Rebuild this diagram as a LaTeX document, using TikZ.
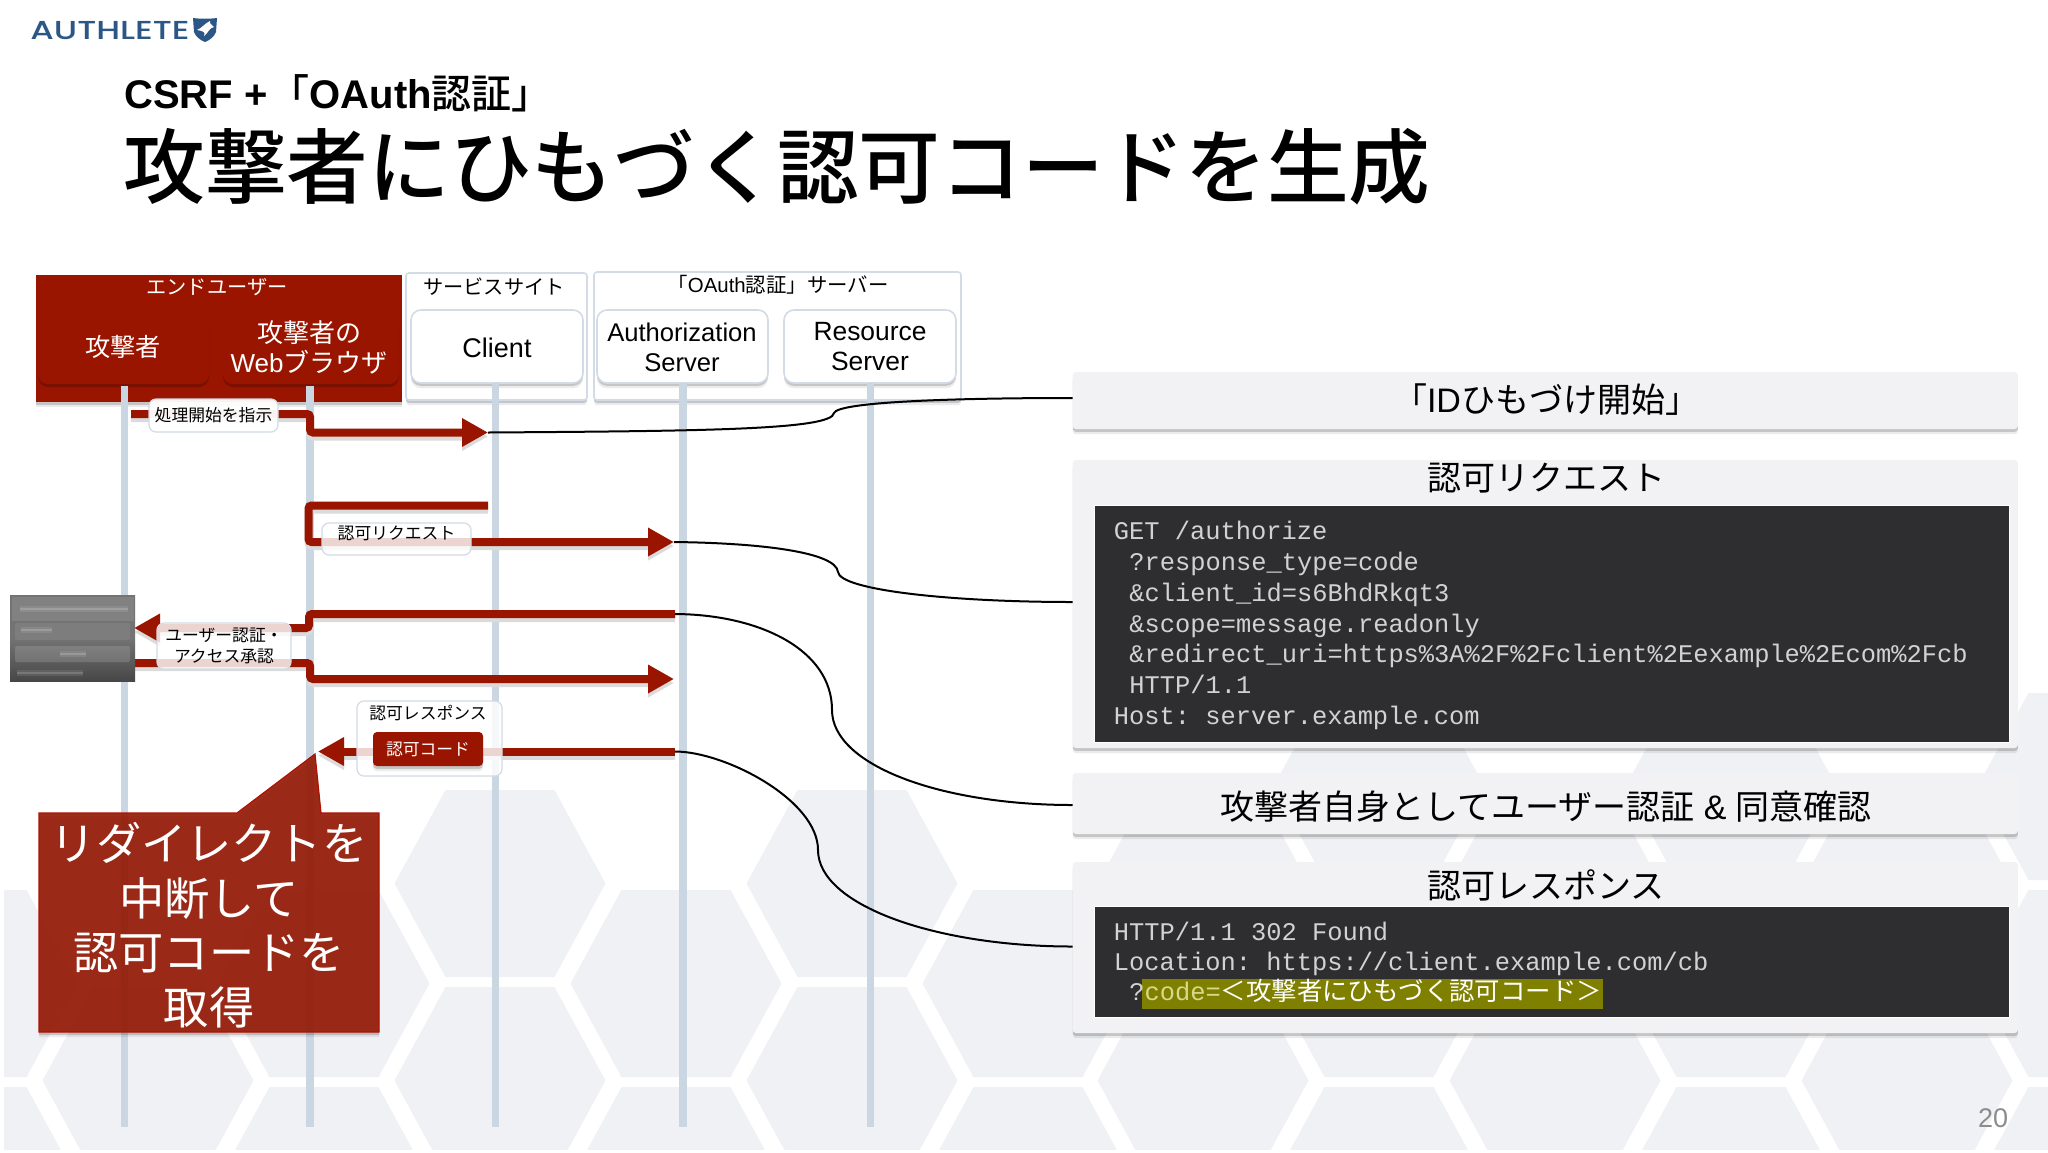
\documentclass[tikz,border=0pt]{standalone}
\usepackage{graphicx}
\usepackage{fontspec}
\setmainfont{Liberation Sans}
\setmonofont{Liberation Mono}
\newfontfamily\cjk{Noto Sans CJK JP}
\newfontfamily\cjkmed{Noto Sans CJK JP Medium}
\newfontfamily\logofont{Poppins Medium}
\usetikzlibrary{arrows.meta,shadows,shapes.geometric}
\definecolor{authred}{HTML}{991500}
\definecolor{lifeblue}{HTML}{CBD6E3}
\definecolor{edgeblue}{HTML}{D3DBE6}
\definecolor{hexgray}{HTML}{F0F1F4}
\definecolor{panelgray}{HTML}{F2F2F4}
\definecolor{codedark}{HTML}{2E2D30}
\definecolor{codetext}{HTML}{D2D2D2}
\definecolor{logoblue}{HTML}{2B5685}
\newcommand{\hexcell}[2]{\fill[hexgray] ({#1-105.5},#2) -- ({#1-54.5},{#2-93.5}) -- ({#1+54.5},{#2-93.5}) -- ({#1+105.5},#2) -- ({#1+54.5},{#2+93.5}) -- ({#1-54.5},{#2+93.5}) -- cycle;}
\tikzset{
  softshadow/.style={drop shadow={shadow xshift=0pt,shadow yshift=-2.6pt,opacity=.08,fill=black},drop shadow={shadow xshift=0pt,shadow yshift=-1.4pt,opacity=.16,fill=black}},
  grouphead/.style={draw=edgeblue,line width=.8pt,fill=white,rounded corners=1.5pt,inner sep=0pt,softshadow},
  actorwhite/.style={draw=edgeblue,line width=.8pt,fill=white,rounded corners=5pt,inner sep=0pt,softshadow},
  actorred/.style={fill=authred,rounded corners=5pt,inner sep=0pt,drop shadow={shadow xshift=0pt,shadow yshift=-1.5pt,opacity=.2,fill=black}},
  headtxt/.style={inner sep=0pt,font=\cjk\fontsize{10.1}{12}\selectfont},
  actortxt/.style={inner sep=0pt,align=center,font=\fontsize{12.8}{15}\selectfont},
  lifeline/.style={line width=3.6pt,lifeblue},
  flow/.style={line width=4pt,authred,rounded corners=1.5pt,preaction={draw=black!14,line width=4pt,transform canvas={yshift=-2pt}}},
  flowhead/.style={-{Triangle[length=13pt,width=13.5pt]}},
  msglabel/.style={draw=edgeblue,line width=.6pt,fill=white,fill opacity=.82,text opacity=1,rounded corners=3.5pt,inner sep=0pt,align=center,font=\cjk\fontsize{8.4}{10}\selectfont},
  panel/.style={fill=panelgray,rounded corners=1.5pt,inner sep=0pt,softshadow},
  paneltitle/.style={inner sep=0pt,font=\cjk\fontsize{17}{20}\selectfont},
  codebox/.style={fill=codedark,draw=white,line width=.5pt,inner sep=0pt},
  codeline/.style={anchor=west,inner sep=0pt,text height=10pt,text depth=3pt,text=codetext,font=\ttfamily\fontsize{12.7}{15}\selectfont},
  link/.style={line width=1pt,black},
  blurwide/.style={line width=3pt,white,opacity=.09},
  blurcore/.style={line width=1.2pt,white,opacity=.16},
}
\begin{document}
\begin{tikzpicture}[x=.5pt,y=-.5pt]
\useasboundingbox (0,0) rectangle (2048,1152);
\fill[white] (0,0) rectangle (2048,1152);
% background honeycomb
\begin{scope}
\clip (4,600) rectangle (2048,1149);
\foreach \cx in {500,852,1203,1555,1907} {\hexcell{\cx}{883.5}}
\foreach \cx in {148,500,852,1203,1555,1907} {\hexcell{\cx}{1080.5}}
\foreach \cx in {148,500,852,1203,1555,1907} {\hexcell{\cx}{1277.5}}
\foreach \cx in {-28,324,676,1028,1379,1731,2083} {\hexcell{\cx}{983.5}}
\foreach \cx in {-28,324,676,1028,1379,1731,2083} {\hexcell{\cx}{1180.5}}
\foreach \cx in {1379,1731,2083} {\hexcell{\cx}{786.5}}
\end{scope}
% logo
\node[anchor=west,inner sep=0pt,text=logoblue,font=\logofont\fontsize{13}{14}\selectfont] (logo) at (30,31) {\scalebox{1.3}[1]{AUTHLETE}};
\fill[logoblue] (193,18) .. controls (201,19) and (209,19) .. (217,18) -- (216,32) .. controls (214,37) and (210,40) .. (205,42) .. controls (200,40) and (196,37) .. (194,32) -- cycle;
\fill[white] (197,30) .. controls (202,28) and (204,24) .. (210,21) .. controls (209,25) and (213,24) .. (214,27) .. controls (209,28) and (209,32) .. (204,36) .. controls (206,32) and (203,31) .. (197,30) -- cycle;
% titles
\node[anchor=west,inner sep=0pt,font=\bfseries\fontsize{20}{24}\selectfont] (subtitle) at (124,93) {CSRF +\hspace{1pt}{\mdseries\cjkmed 「}OAuth{\mdseries\cjkmed 認証」}};
\node[anchor=west,inner sep=0pt,font=\cjkmed\fontsize{40.85}{48}\selectfont] (title) at (123,167) {攻撃者にひもづく認可コードを生成};
% group heads
\node[fill=authred,minimum width=183pt,minimum height=63.5pt,inner sep=0pt,softshadow] (grpuser) at (219,338.5) {};
\node[grouphead,minimum width=90.5pt,minimum height=63.5pt] (grpsvc) at (496.5,336.5) {};
\node[grouphead,minimum width=183.5pt,minimum height=64pt] (grpauth) at (777.5,336) {};
\node[headtxt,text=white] (hduser) at (217,287) {エンドユーザー};
\node[headtxt] (hdsvc) at (494,287) {サービスサイト};
\node[inner sep=0pt,font=\fontsize{10.2}{12}\selectfont] (hdauth) at (778,285) {{\cjk 「}OAuth{\cjk 認証」サーバー}};
% actors
\node[actorred,minimum width=85.5pt,minimum height=37pt] (attacker) at (123.5,347) {};
\node[actorred,minimum width=88pt,minimum height=37pt] (browser) at (311,347) {};
\node[actorwhite,minimum width=86pt,minimum height=36.5pt] (client) at (497,346.5) {};
\node[actorwhite,minimum width=85.5pt,minimum height=36.5pt] (authz) at (682.5,346.5) {};
\node[actorwhite,minimum width=86pt,minimum height=36.5pt] (resource) at (870,346.5) {};
\node[inner sep=0pt,text=white,font=\cjk\fontsize{12.6}{15}\selectfont] (tattacker) at (123,347) {攻撃者};
\node[actortxt,text=white,font=\fontsize{13}{15}\selectfont] (tbrowser) at (309,347) {{\cjk 攻撃者の}\\Web{\cjk ブラウザ}};
\node[actortxt,font=\fontsize{13.5}{15}\selectfont] (tclient) at (497,348) {Client};
\node[actortxt] (tauthz) at (682,347) {Authorization\\Server};
\node[actortxt,font=\fontsize{13.2}{15}\selectfont] (tresource) at (870,347) {Resource\\Server};
% life lines
\coordinate (endA) at (124.5,1127);
\coordinate (endB) at (310,1127);
\coordinate (endC) at (495.5,1127);
\coordinate (endD) at (683,1127);
\coordinate (endE) at (870.5,1127);
\draw[lifeline] (124.5,386) -- (endA);
\draw[lifeline] (310,386) -- (endB);
\draw[lifeline] (495.5,383) -- (endC);
\draw[lifeline] (683,383) -- (endD);
\draw[lifeline] (870.5,383) -- (endE);
% flow 1
\coordinate (f1a) at (131,414);
\coordinate (f1b) at (310,414);
\coordinate (f1c) at (310,432.5);
\coordinate (f1d) at (488,432.5);
\draw[flow,flowhead] (f1a) -- (f1b) -- (f1c) -- (f1d);
% flow 2
\coordinate (f2a) at (488,505.5);
\coordinate (f2b) at (308.5,505.5);
\coordinate (f2c) at (308.5,542);
\coordinate (f2d) at (674,542);
\draw[flow,flowhead] (f2a) -- (f2b) -- (f2c) -- (f2d);
% flow 3
\coordinate (f3a) at (675,614);
\coordinate (f3b) at (309,614);
\coordinate (f3c) at (309,628);
\coordinate (f3d) at (134,628);
\draw[flow,flowhead] (f3a) -- (f3b) -- (f3c) -- (f3d);
% flow 4
\coordinate (f4a) at (135,663);
\coordinate (f4b) at (310,663);
\coordinate (f4c) at (310,679);
\coordinate (f4d) at (674,679);
\draw[flow,flowhead] (f4a) -- (f4b) -- (f4c) -- (f4d);
% flow 5
\coordinate (f5a) at (675,751.5);
\coordinate (f5d) at (318,751.5);
\draw[flow,flowhead] (f5a) -- (f5d);
% login screenshot
\node[minimum width=62.5pt,minimum height=43pt,inner sep=0pt,top color=black!55,bottom color=black!72,middle color=black!55] (shot) at (72.5,638) {};
\fill[white,opacity=.10] (12,597) rectangle (134,621);
\fill[white,opacity=.08,rounded corners=1pt] (15,623) rectangle (130,640);
\fill[white,opacity=.14,rounded corners=1pt] (15,646) rectangle (130,662);
\draw[blurwide] (20,609) -- (128,609);
\draw[blurcore] (20,609) -- (128,609);
\draw[blurwide] (21,630) -- (52,630);
\draw[blurcore] (21,630) -- (52,630);
\draw[blurwide] (60,654) -- (86,654);
\draw[blurcore] (60,654) -- (86,654);
\draw[blurwide] (17,673) -- (83,673);
\draw[blurcore] (17,673) -- (83,673);
% message labels
\node[msglabel,fill opacity=.95,minimum width=64.5pt,minimum height=16.5pt] (m1) at (213.5,415.5) {処理開始を指示};
\node[msglabel,minimum width=74.5pt,minimum height=16pt,text depth=7pt,text height=7pt] (m2) at (396.5,539) {認可リクエスト};
\node[msglabel,minimum width=67pt,minimum height=23pt] (m3) at (224,646) {ユーザー認証・\\[.7pt]アクセス承認};
\node[msglabel,minimum width=72.5pt,minimum height=37.5pt] (m5) at (429.5,738.5) {};
\node[inner sep=0pt,font=\cjk\fontsize{8.4}{10}\selectfont] (m5t) at (428,713) {認可レスポンス};
\node[fill=authred,rounded corners=2pt,inner sep=0pt,minimum width=55pt,minimum height=17pt,text=white,font=\cjk\fontsize{8.4}{10}\selectfont,softshadow] (code) at (428,749) {認可コード};
% callout
\path[fill=authred!92!gray,fill opacity=.93,draw=authred!80!red,line width=.6pt,softshadow] (39,813) -- (237,813) -- (315,754) -- (321,813) -- (379,813) -- (379,1032) -- (39,1032) -- cycle;
\node[inner sep=0pt,align=center,text=white,font=\cjk\fontsize{22.6}{27.3}\selectfont] (calltxt) at (209,925) {リダイレクトを\\中断して\\認可コードを\\取得};
% panels
\node[panel,minimum width=472.5pt,minimum height=28.5pt] (p1) at (1545.25,400.5) {};
\node[paneltitle,font=\fontsize{17}{20}\selectfont] (p1t) at (1546,400) {{\cjk 「}ID{\cjk ひもづけ開始」}};
\node[panel,minimum width=472.5pt,minimum height=144pt] (p2) at (1545.25,604) {};
\node[paneltitle] (p2t) at (1546,478) {認可リクエスト};
\node[codebox,minimum width=457.75pt,minimum height=118.5pt] (c2) at (1551.75,623.5) {};
\node[codeline] (l1) at (1113.5,532.5) {GET /authorize};
\node[codeline] (l2) at (1129,563) {?response\_type=code};
\node[codeline] (l3) at (1129,594) {\&client\_id=s6BhdRkqt3};
\node[codeline] (l4) at (1129,625) {\&scope=message.readonly};
\node[codeline] (l5) at (1129,655) {\&redirect\_uri=https\%3A\%2F\%2Fclient\%2Eexample\%2Ecom\%2Fcb};
\node[codeline] (l6) at (1129,686) {HTTP/1.1};
\node[codeline] (l7) at (1113.5,717) {Host: server.example.com};
\node[panel,minimum width=472.5pt,minimum height=30.5pt] (p3) at (1545.25,803.5) {};
\node[paneltitle,font=\fontsize{17}{20}\selectfont] (p3t) at (1546,807) {{\cjk 攻撃者自身としてユーザー認証} \& {\cjk 同意確認}};
\node[panel,minimum width=472.5pt,minimum height=85.5pt] (p4) at (1545.25,947.5) {};
\node[paneltitle] (p4t) at (1546,885) {認可レスポンス};
\node[codebox,minimum width=457.75pt,minimum height=55.5pt] (c4) at (1551.75,961.5) {};
\node[codeline] (r1) at (1113.5,933) {HTTP/1.1 302 Found};
\node[codeline] (r2) at (1113.5,963) {Location: https://client.example.com/cb};
\node[fill={rgb,255:red,128;green,128;blue,0},inner sep=0pt,minimum width=230.5pt,minimum height=15pt] (hl) at (1372.5,994) {};
\node[codeline] (r3) at (1129,993.5) {?{\color[HTML]{D9D98C}code=}{\cjk\color{white}＜攻撃者にひもづく認可コード＞}};
% links
\coordinate (e1) at (1072.5,398);
\coordinate (e2) at (1072.5,602);
\coordinate (e3) at (1072.5,805);
\coordinate (e4) at (1072.5,946.5);
\draw[link] (f1d) .. controls (700,431) and (832,430) .. (834,413) .. controls (838,402) and (950,398) .. (e1);
\draw[link] (f2d) .. controls (760,543) and (836,552) .. (838,572) .. controls (840,590) and (950,602) .. (e2);
\draw[link] (f3a) .. controls (760,614.5) and (832,650) .. (832,710) .. controls (832,765) and (940,805) .. (e3);
\draw[link] (f5a) .. controls (725,751.5) and (818,800) .. (818,850) .. controls (818,905) and (935,946.5) .. (e4);
% page number
\node[inner sep=0pt,text=black!45,font=\fontsize{13.5}{16}\selectfont] (page) at (1993,1118) {20};
\end{tikzpicture}
\end{document}
